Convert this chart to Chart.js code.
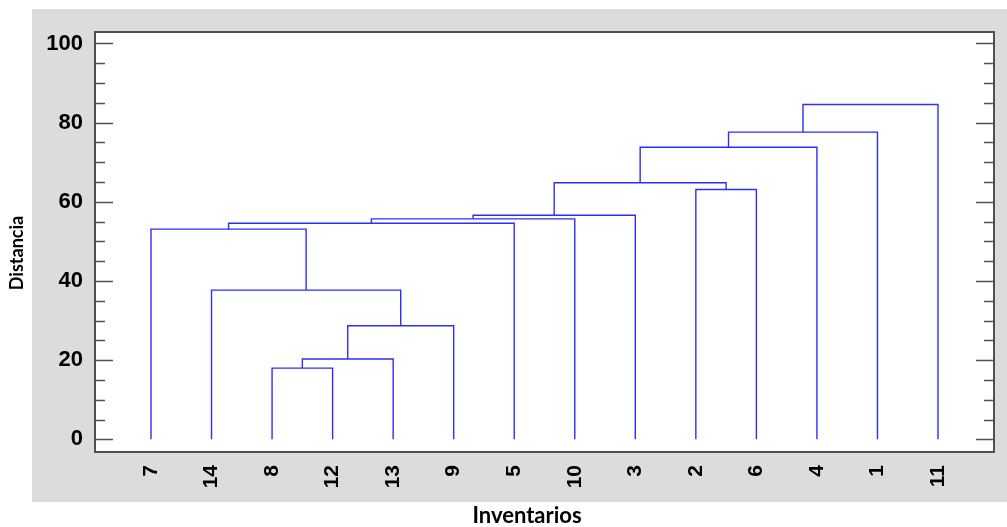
<!DOCTYPE html>
<html>
<head>
<meta charset="utf-8">
<script src="https://cdn.jsdelivr.net/npm/chart.js@4.4.1/dist/chart.umd.min.js"></script>
<style>
  html, body { margin: 0; padding: 0; background: #ffffff; }
  #wrap { width: 1007px; height: 527px; position: relative; }
  canvas { display: block; }
</style>
</head>
<body>
<div id="wrap"><canvas id="dendro" width="1007" height="527" style="width:1007px;height:527px"></canvas></div>
<script>
// Leaf order along the horizontal axis
const leafLabels = ['7', '14', '8', '12', '13', '9', '5', '10', '3', '2', '6', '4', '1', '11'];

// Agglomeration steps: cluster Ck joins mergeLeft[k-1] with mergeRight[k-1]
const mergeLeft  = ['8',  'C1', 'C2', '14', '7',  'C5', 'C6', 'C7', '2', 'C8', 'C10', 'C11', 'C12'];
const mergeRight = ['12', '13', '9',  'C3', 'C4', '5',  '10', '3',  '6', 'C9', '4',   '1',   '11'];
const mergeHeights = [18.0, 20.3, 28.7, 37.7, 53.1, 54.6, 55.7, 56.6, 63.1, 64.8, 73.8, 77.6, 84.6];

// Distance axis labels
const distanceTicks = [0, 20, 40, 60, 80, 100];

// Axis titles
const xTitle = 'Inventarios';
const yTitle = 'Distancia';

// Node positions: leaves sit at their index, clusters at the mean of their two children
const nodeX = {};
const nodeH = {};
leafLabels.forEach((lab, i) => { nodeX[lab] = i; nodeH[lab] = 0; });

const linkSets = mergeHeights.map((h, k) => {
  const a = mergeLeft[k], b = mergeRight[k];
  const id = 'C' + (k + 1);
  nodeX[id] = (nodeX[a] + nodeX[b]) / 2;
  nodeH[id] = h;
  return {
    data: [
      { x: nodeX[a], y: nodeH[a] },
      { x: nodeX[a], y: h },
      { x: nodeX[b], y: h },
      { x: nodeX[b], y: nodeH[b] }
    ],
    borderColor: 'rgb(45,45,255)',
    borderWidth: 1.4,
    pointRadius: 0,
    tension: 0,
    fill: false
  };
});

const AXIS_COLOR = '#505050';

const framePlugin = {
  id: 'frame',
  beforeDraw(chart) {
    const { ctx, chartArea: a } = chart;
    ctx.save();
    ctx.fillStyle = '#dcdcdc';
    ctx.fillRect(32, 9, 975, 493);
    ctx.fillStyle = '#ffffff';
    ctx.fillRect(a.left, a.top, a.right - a.left, a.bottom - a.top);
    ctx.restore();
  },
  afterDatasetsDraw(chart) {
    const { ctx, chartArea: a, scales } = chart;
    const y = scales.y;
    ctx.save();
    ctx.strokeStyle = AXIS_COLOR;
    ctx.lineWidth = 1.5;
    ctx.beginPath();
    for (let v = 0; v <= 100; v += 5) {
      const py = Math.round(y.getPixelForValue(v)) + 0.5;
      const len = v % 20 === 0 ? 18 : 10;
      ctx.moveTo(a.left, py); ctx.lineTo(a.left + len, py);
      ctx.moveTo(a.right, py); ctx.lineTo(a.right - len, py);
    }
    ctx.stroke();
    ctx.lineWidth = 2;
    ctx.strokeRect(a.left, a.top, a.right - a.left, a.bottom - a.top);
    ctx.restore();
  },
  afterDraw(chart) {
    const { ctx } = chart;
    ctx.save();
    ctx.fillStyle = '#000000';
    ctx.textAlign = 'center';
    ctx.textBaseline = 'middle';
    ctx.font = 'bold 22px Lato';
    ctx.fillText(xTitle, 527, 516);
    ctx.translate(17, 253);
    ctx.rotate(-Math.PI / 2);
    ctx.font = 'bold 18px Lato';
    ctx.fillText(yTitle, 0, 0);
    ctx.restore();
  }
};

new Chart(document.getElementById('dendro'), {
  type: 'line',
  data: { datasets: linkSets },
  options: {
    responsive: false,
    animation: false,
    events: [],
    layout: { padding: { top: 32, right: 13, bottom: 0, left: 0 } },
    plugins: { legend: { display: false }, tooltip: { enabled: false } },
    scales: {
      x: {
        type: 'linear',
        min: -0.925,
        max: 13.925,
        grid: { display: false, drawTicks: false },
        border: { display: false },
        afterBuildTicks: s => { s.ticks = leafLabels.map((_, i) => ({ value: i })); },
        afterFit: s => { s.height = 75; },
        ticks: {
          autoSkip: false,
          minRotation: 90,
          maxRotation: 90,
          padding: 13,
          color: '#000000',
          font: { family: 'Liberation Sans', size: 21, weight: 'bold' },
          callback: v => leafLabels[v] ?? ''
        }
      },
      y: {
        type: 'linear',
        min: -3.2,
        max: 102.9,
        grid: { display: false, drawTicks: false },
        border: { display: false },
        afterBuildTicks: s => { s.ticks = distanceTicks.map(v => ({ value: v })); },
        afterFit: s => { s.width = 95; },
        ticks: {
          padding: 12,
          color: '#000000',
          font: { family: 'Liberation Sans', size: 22, weight: 'bold' }
        }
      }
    }
  },
  plugins: [framePlugin]
});
</script>
</body>
</html>
